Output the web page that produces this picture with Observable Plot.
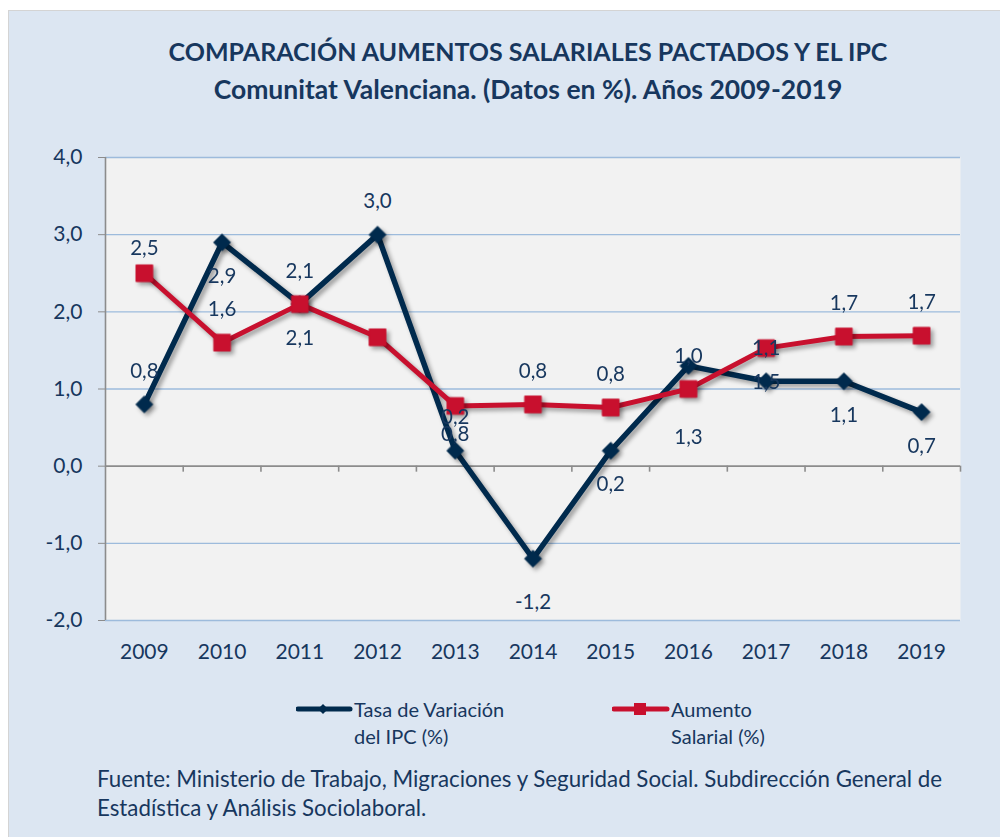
<!DOCTYPE html>
<html>
<head>
<meta charset="utf-8">
<script src="https://cdn.jsdelivr.net/npm/d3@7"></script>
<script src="https://cdn.jsdelivr.net/npm/@observablehq/plot@0.6"></script>
<style>
  html, body { margin: 0; padding: 0; background: #ffffff; }
  body { width: 1000px; height: 837px; position: relative; overflow: hidden; font-family: Lato, "Open Sans", sans-serif; }
  #frame { position: absolute; left: 8px; top: 10px; width: 992px; height: 827px; background: #dce6f2; border-left: 1px solid #d4d4d4; border-top: 1px solid #d4d4d4; box-sizing: border-box; }
  #title { position: absolute; left: 28px; width: 1000px; top: 34px; text-align: center; color: #17375e; font-weight: bold; line-height: 35px; }
  #title .l1 { font-size: 25px; }
  #title .l2 { font-size: 26.5px; }
  #chart { position: absolute; left: 0; top: 130px; }
  #legend { position: absolute; top: 696px; left: 0; width: 1000px; color: #17375e; font-size: 20px; line-height: 27px; }
  .leg { position: absolute; display: flex; align-items: flex-start; }
  .leg svg { margin-top: 1px; }
  #caption { position: absolute; left: 97px; top: 764px; width: 890px; color: #17375e; font-size: 22.3px; line-height: 29px; }
</style>
</head>
<body>
<div id="frame"></div>
<div id="title"><span class="l1">COMPARACIÓN AUMENTOS SALARIALES PACTADOS Y EL IPC</span><br><span class="l2">Comunitat Valenciana. (Datos en %). Años 2009-2019</span></div>
<div id="chart"></div>
<div id="legend"></div>
<div id="caption">Fuente: Ministerio de Trabajo, Migraciones y Seguridad Social. Subdirección General de<br>Estadística y Análisis Sociolaboral.</div>
<script>
// ---- data ----
const years = [2009, 2010, 2011, 2012, 2013, 2014, 2015, 2016, 2017, 2018, 2019];
const ipc = [0.8, 2.9, 2.1, 3.0, 0.2, -1.2, 0.2, 1.3, 1.1, 1.1, 0.7];
const salario = [2.5, 1.6, 2.1, 1.67, 0.78, 0.8, 0.76, 1.0, 1.53, 1.68, 1.69];
const ipcLabels = ["0,8", "2,9", "2,1", "3,0", "0,2", "-1,2", "0,2", "1,3", "1,1", "1,1", "0,7"];
const salarioLabels = ["2,5", "1,6", "2,1", "", "0,8", "0,8", "0,8", "1,0", "1,5", "1,7", "1,7"];
const ipcLabelPlace = ["above", "below", "below", "above", "above", "belowFar", "below", "belowFarther", "above", "below", "below"];
const salarioLabelPlace = ["aboveNear", "above", "above", "none", "belowNear", "above", "above", "above", "below", "above", "above"];
const yTicks = [-2, -1, 0, 1, 2, 3, 4];
const seriesNames = ["Tasa de Variación<br>del IPC (%)", "Aumento<br>Salarial (%)"];

// ---- styling ----
const NAVY = "#002a4d";
const RED = "#c8102e";
const TEXT = "#17375e";
const GRID = "#9dbbdc";
const AXIS = "#8c8c8c";
const placeDy = {above: -33, aboveNear: -25, below: 34, belowNear: 28, belowFar: 44, belowFarther: 72};

const ipcData = years.map((y, i) => ({year: y, value: ipc[i], label: ipcLabels[i], place: ipcLabelPlace[i]}));
const salData = years.map((y, i) => ({year: y, value: salario[i], label: salarioLabels[i], place: salarioLabelPlace[i]}));
const labelData = [...ipcData, ...salData].filter(d => d.place !== "none" && d.label);
const boundaries = years.map(y => y + 0.5);
const fmt = d => d.toFixed(1).replace(".", ",");

const chart = Plot.plot({
  width: 1000,
  height: 550,
  marginLeft: 105,
  marginRight: 40,
  marginTop: 27,
  marginBottom: 60,
  style: {background: "transparent", fontFamily: "Lato, 'Open Sans', sans-serif", color: TEXT, overflow: "visible"},
  x: {domain: [years[0] - 0.5, years[years.length - 1] + 0.5]},
  y: {domain: [yTicks[0], yTicks[yTicks.length - 1]]},
  marks: [
    Plot.frame({fill: "#f2f2f2", stroke: null}),
    Plot.ruleY(yTicks.filter(t => t !== 0), {stroke: GRID, strokeWidth: 1.4}),
    Plot.ruleY([0], {stroke: AXIS, strokeWidth: 1.6}),
    Plot.ruleX(boundaries, {y1: 0, y2: 0, insetBottom: -6, stroke: AXIS, strokeWidth: 1.6}),
    Plot.ruleX([years[0] - 0.5], {stroke: AXIS, strokeWidth: 1.6}),
    Plot.axisY({ticks: yTicks, tickFormat: fmt, tickSize: 7, tickPadding: 16, stroke: AXIS, fontSize: 21, fill: TEXT, label: null}),
    Plot.axisX({ticks: years, tickFormat: d => String(d), tickSize: 0, tickPadding: 24, fontSize: 21, fill: TEXT, label: null}),
    Plot.line(ipcData, {x: "year", y: "value", stroke: NAVY, strokeWidth: 5.5, strokeLinejoin: "miter"}),
    Plot.dot(ipcData, {x: "year", y: "value", symbol: "diamond2", r: 7.6, fill: NAVY, stroke: NAVY, strokeWidth: 1}),
    Plot.line(salData, {x: "year", y: "value", stroke: RED, strokeWidth: 5, strokeLinejoin: "miter"}),
    Plot.dot(salData, {x: "year", y: "value", symbol: "square", r: 9.4, fill: RED, stroke: RED, strokeWidth: 1}),
    Plot.text(labelData, {x: "year", y: "value", text: "label", fontSize: 20.5, fill: TEXT})
  ]
});
document.getElementById("chart").appendChild(chart);

// position the data labels above/below their points
(() => {
  const texts = chart.querySelectorAll('g[aria-label="text"] text');
  texts.forEach((t, i) => {
    const d = labelData[i];
    const cur = t.getAttribute("transform") || "";
    t.setAttribute("transform", cur + ` translate(0,${placeDy[d.place]})`);
  });
  chart.querySelectorAll('g[aria-label="line"], g[aria-label="dot"]').forEach(g => {
    g.style.filter = "drop-shadow(3px 3px 2px rgba(0,0,0,0.35))";
  });
})();

// legend
const legend = document.getElementById("legend");
legend.innerHTML = `
  <div class="leg" style="left:296px">
    <svg width="58" height="26"><line x1="2" y1="12" x2="54" y2="12" stroke="${NAVY}" stroke-width="5" stroke-linecap="round"/><path d="M27 7 L32 12 L27 17 L22 12 Z" fill="${NAVY}"/></svg>
    <div>${seriesNames[0]}</div>
  </div>
  <div class="leg" style="left:612px">
    <svg width="59" height="26"><line x1="2" y1="12" x2="55" y2="12" stroke="${RED}" stroke-width="5" stroke-linecap="round"/><rect x="22" y="6" width="12" height="12" fill="${RED}"/></svg>
    <div>${seriesNames[1]}</div>
  </div>`;
</script>
</body>
</html>
